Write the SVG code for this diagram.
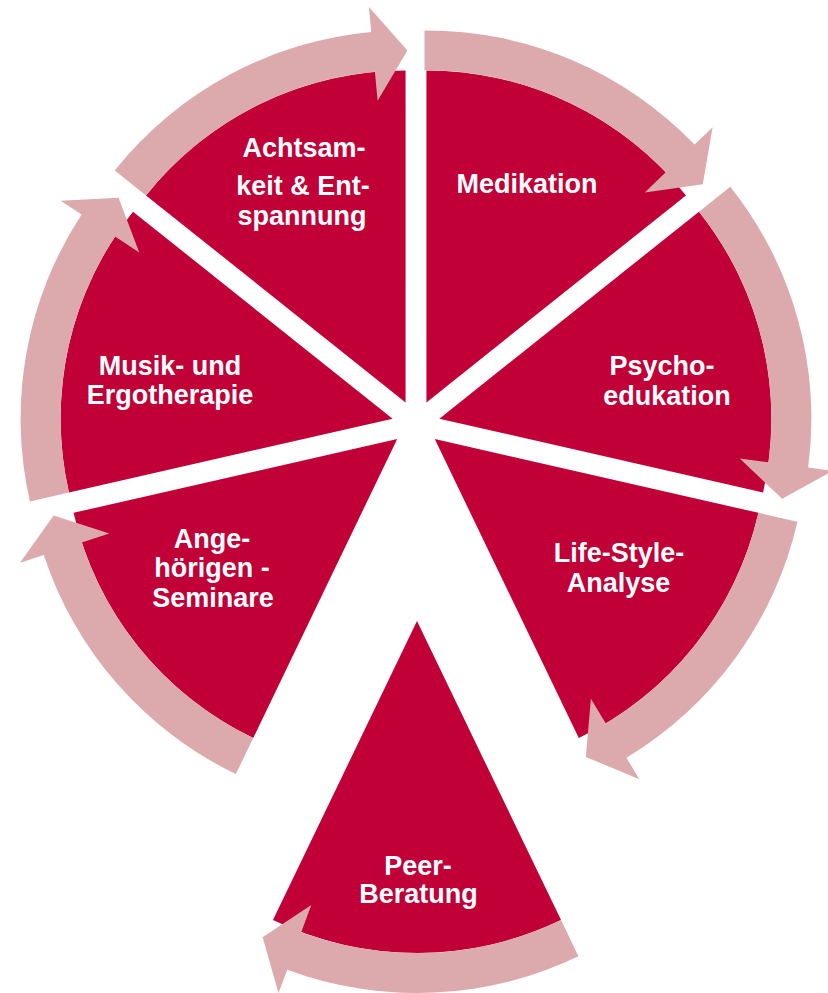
<svg xmlns="http://www.w3.org/2000/svg" width="828" height="993" viewBox="0 0 828 993">
<style>
.slice{fill:#C10037}
.arr{fill:#DCAAAD}
.lbl{font-family:"Liberation Sans",Arial,sans-serif;font-weight:bold;font-size:27px;fill:#FFFFFF;text-anchor:middle}
</style>
<rect width="828" height="993" fill="#FFFFFF"/>
<g id="medikation">
<path class="slice" d="M426.41,402.38 L426.41,70.38 A332,332 0 0 1 685.98,195.38 Z"/>
<text class="lbl" x="527" y="193">Medikation</text>
</g>
<g id="psychoedukation">
<path class="slice" d="M439.40,418.66 L698.97,211.66 A332,332 0 0 1 763.08,492.54 Z"/>
<text class="lbl" x="662" y="375">Psycho-</text>
<text class="lbl" x="667" y="405">edukation</text>
</g>
<g id="lifestyle">
<path class="slice" d="M434.76,438.96 L758.44,512.84 A332,332 0 0 1 578.81,738.08 Z"/>
<text class="lbl" x="619" y="562">Life-Style-</text>
<text class="lbl" x="618.5" y="592">Analyse</text>
</g>
<g id="peer">
<path class="slice" d="M417,621 L561.05,920.12 A332,332 0 0 1 272.95,920.12 Z"/>
<text class="lbl" x="418" y="875">Peer-</text>
<text class="lbl" x="418.5" y="903">Beratung</text>
</g>
<g id="angehoerigen">
<path class="slice" d="M397.24,438.96 L253.19,738.08 A332,332 0 0 1 73.56,512.84 Z"/>
<text class="lbl" x="212" y="548">Ange-</text>
<text class="lbl" x="212" y="577">hörigen -</text>
<text class="lbl" x="213" y="607">Seminare</text>
</g>
<g id="musik">
<path class="slice" d="M392.60,418.66 L68.92,492.54 A332,332 0 0 1 133.03,211.66 Z"/>
<text class="lbl" x="170" y="375">Musik- und</text>
<text class="lbl" x="170" y="404">Ergotherapie</text>
</g>
<g id="achtsamkeit">
<path class="slice" d="M405.59,402.38 L146.02,195.38 A332,332 0 0 1 405.59,70.38 Z"/>
<text class="lbl" x="304" y="157">Achtsam-</text>
<text class="lbl" x="303" y="195">keit &amp; Ent-</text>
<text class="lbl" x="302" y="225">spannung</text>
</g>
<g id="connectors">
<path class="arr" d="M424.5,30.38 A372,372 0 0 1 694.59,144.57 L712.61,127.24 L702.76,184.35 L644.85,192.39 L665.75,172.29 A332,332 0 0 0 424.5,70.38 Z"/>
<path class="arr" d="M730.24,186.72 A372,372 0 0 1 808.17,467.58 L832.95,470.87 L782.16,498.78 L739.77,458.51 L768.51,462.32 A332,332 0 0 0 698.97,211.66 Z"/>
<path class="arr" d="M797.43,521.74 A372,372 0 0 1 626.43,757.78 L639.31,779.21 L585.82,756.90 L590.88,698.65 L605.82,723.50 A332,332 0 0 0 758.44,512.84 Z"/>
<path class="arr" d="M578.40,956.16 A372,372 0 0 1 287.25,969.64 L278.53,993.07 L262.62,937.34 L311.31,904.97 L301.20,932.15 A332,332 0 0 0 561.05,920.12 Z"/>
<path class="arr" d="M235.84,774.12 A372,372 0 0 1 43.77,554.89 L20.01,562.68 L53.66,515.49 L109.33,533.38 L81.77,542.42 A332,332 0 0 0 253.19,738.08 Z"/>
<path class="arr" d="M29.93,501.44 A372,372 0 0 1 81.57,214.57 L60.67,200.86 L118.55,197.76 L139.26,252.43 L115.02,236.52 A332,332 0 0 0 68.92,492.54 Z"/>
<path class="arr" d="M114.75,170.44 A372,372 0 0 1 371.23,31.97 L368.92,7.08 L407.43,50.38 L377.60,100.67 L374.92,71.80 A332,332 0 0 0 146.02,195.38 Z"/>
</g>
</svg>
